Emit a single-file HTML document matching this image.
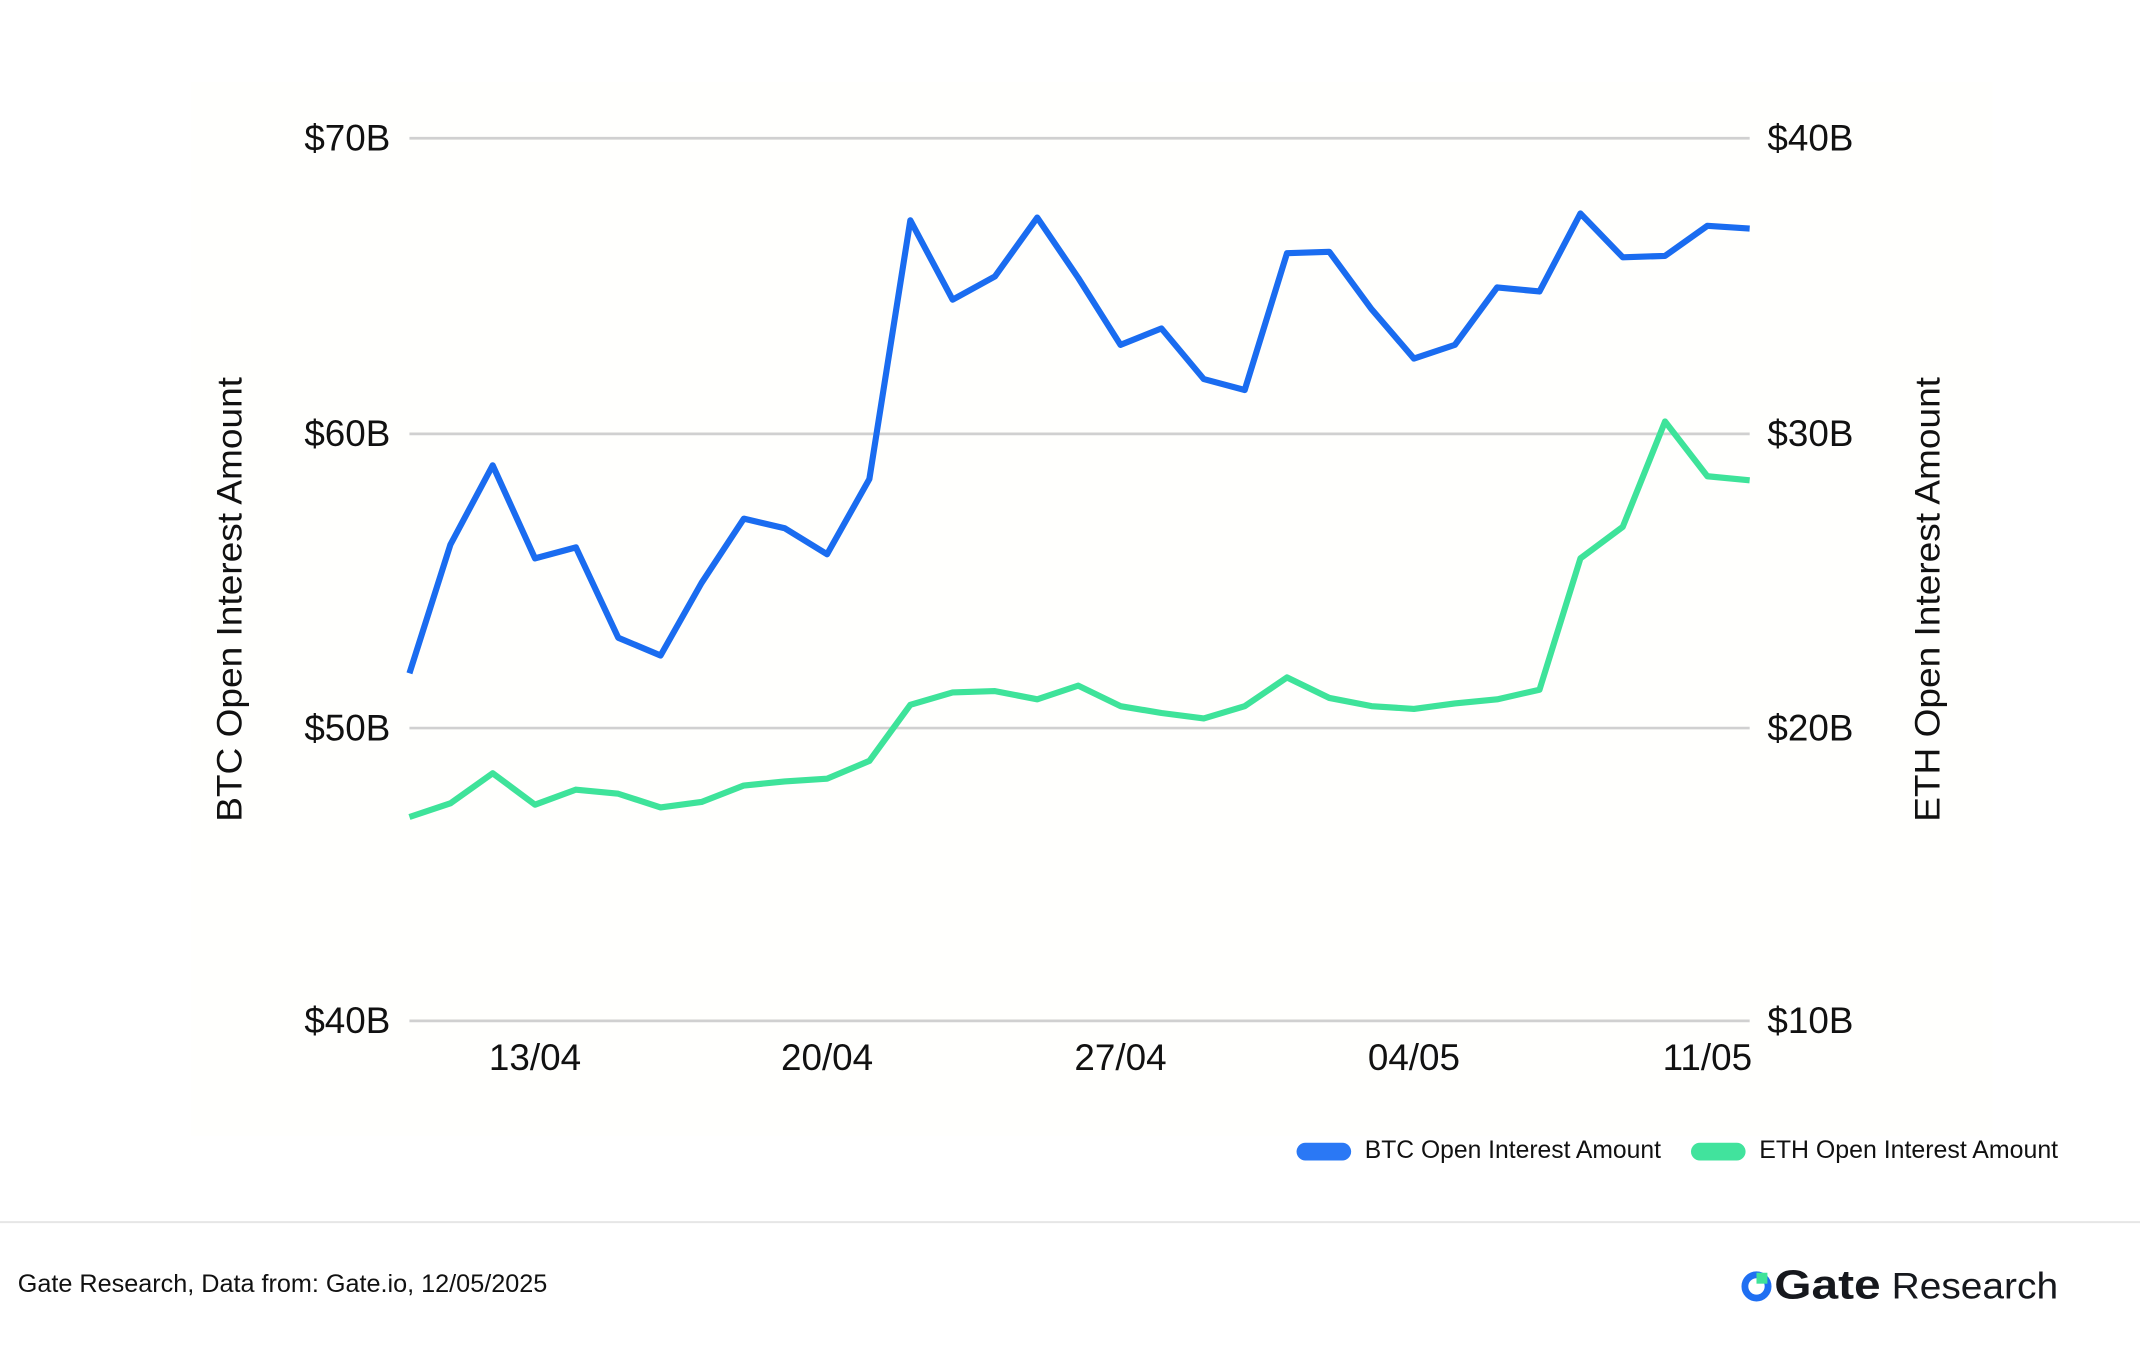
<!DOCTYPE html>
<html><head><meta charset="utf-8"><style>html,body{margin:0;padding:0;background:#fff;}svg{display:block}</style></head>
<body>
<svg width="2140" height="1348" viewBox="0 0 1568 985" preserveAspectRatio="none" xmlns="http://www.w3.org/2000/svg">
<rect width="1568" height="985" fill="#fff"/>
<rect x="140" y="60" width="1320" height="770" fill="#fffffd"/>
<g stroke="#d0d0d0" stroke-width="2">
<line x1="300" y1="101" x2="1282" y2="101"/>
<line x1="300" y1="317" x2="1282" y2="317"/>
<line x1="300" y1="532" x2="1282" y2="532"/>
<line x1="300" y1="746" x2="1282" y2="746"/>
</g>
<g font-family="Liberation Sans, sans-serif" font-size="27" fill="#111">
<text x="286" y="110" text-anchor="end">$70B</text>
<text x="286" y="326" text-anchor="end">$60B</text>
<text x="286" y="541" text-anchor="end">$50B</text>
<text x="286" y="755" text-anchor="end">$40B</text>
<text x="1295" y="110">$40B</text>
<text x="1295" y="326">$30B</text>
<text x="1295" y="541">$20B</text>
<text x="1295" y="755">$10B</text>
<text x="392" y="782" text-anchor="middle">13/04</text>
<text x="606" y="782" text-anchor="middle">20/04</text>
<text x="821" y="782" text-anchor="middle">27/04</text>
<text x="1036" y="782" text-anchor="middle">04/05</text>
<text x="1251" y="782" text-anchor="middle">11/05</text>
<text transform="translate(177,438) rotate(-90)" text-anchor="middle" font-size="26" textLength="325" lengthAdjust="spacingAndGlyphs">BTC Open Interest Amount</text>
<text transform="translate(1421,438) rotate(-90)" text-anchor="middle" font-size="26" textLength="325" lengthAdjust="spacingAndGlyphs">ETH Open Interest Amount</text>
</g>
<polyline fill="none" stroke="#1a6cf0" stroke-width="4.5" stroke-linejoin="round" points="300,492 330,398 361,340 392,408 422,400 453,466 484,479 514,426 545,379 575,386 606,405 637,350 667,161 698,219 729,202 760,159 790,203 821,252 851,240 882,277 912,285 943,185 974,184 1005,226 1036,262 1066,252 1097,210 1128,213 1158,156 1189,188 1220,187 1251,165 1282,167"/>
<polyline fill="none" stroke="#3ee39a" stroke-width="4.5" stroke-linejoin="round" points="300,597 330,587 361,565 392,588 422,577 453,580 484,590 514,586 545,574 575,571 606,569 637,556 667,515 698,506 729,505 760,511 790,501 821,516 851,521 882,525 912,516 943,495 974,510 1005,516 1036,518 1066,514 1097,511 1128,504 1158,408 1189,385 1220,308 1251,348 1282,351"/>
<rect x="950" y="835" width="40" height="13" rx="6.5" fill="#2a78f5"/>
<rect x="1239" y="835" width="40" height="13" rx="6.5" fill="#41e39d"/>
<g font-family="Liberation Sans, sans-serif" font-size="18" fill="#111">
<text x="1000" y="846" textLength="217" lengthAdjust="spacingAndGlyphs">BTC Open Interest Amount</text>
<text x="1289" y="846" textLength="219" lengthAdjust="spacingAndGlyphs">ETH Open Interest Amount</text>
<text x="13" y="944" textLength="388" lengthAdjust="spacingAndGlyphs">Gate Research, Data from: Gate.io, 12/05/2025</text>
</g>
<line x1="0" y1="893" x2="1568" y2="893" stroke="#e6e6e6" stroke-width="1.5"/>
<circle cx="1287" cy="940" r="8.5" fill="none" stroke="#1f6ff2" stroke-width="5"/>
<rect x="1287" y="930" width="8" height="8" fill="#3ee39a"/>
<text x="1300" y="949" font-family="Liberation Sans, sans-serif" font-size="30" font-weight="bold" fill="#16181d" textLength="78" lengthAdjust="spacingAndGlyphs">Gate</text>
<text x="1386" y="949" font-family="Liberation Sans, sans-serif" font-size="27" fill="#16181d" textLength="122" lengthAdjust="spacingAndGlyphs">Research</text>
</svg>
</body></html>
